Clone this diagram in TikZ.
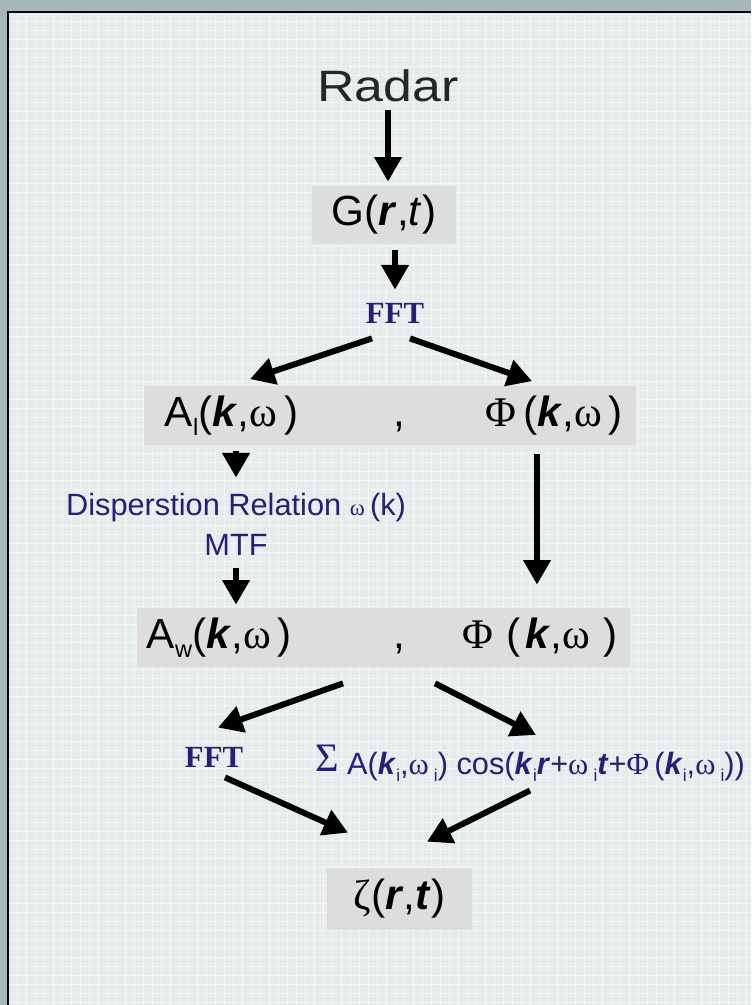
\documentclass[tikz,border=0pt]{standalone}
\usepackage{fontspec}
\setmainfont{Liberation Sans}
\newfontfamily\symb{Liberation Serif}
\usetikzlibrary{arrows.meta,calc}
\definecolor{navy}{RGB}{38,30,120}
\definecolor{boxgray}{RGB}{221,221,219}
\definecolor{paper}{RGB}{230,235,235}
\definecolor{marble}{RGB}{166,183,185}
\newcommand\vk{\textbf{\textit{k}}}
\newcommand\vr{\textbf{\textit{r}}}
\newcommand\vt{\textbf{\textit{t}}}
\newcommand\om{{\symb ω}}
\newcommand\sub[1]{\raisebox{-.22em}{\scalebox{.56}{#1}}}

\begin{document}
\begin{tikzpicture}[x=0.2mm,y=-0.2mm,
 bx/.style={fill=boxgray,inner sep=0pt,minimum height=11.8mm,font=\fontsize{24}{28}\selectfont},
 lb/.style={inner sep=0pt,text=navy},
 fft/.style={lb,font=\symb\bfseries\fontsize{17.5}{20}\selectfont},
 ar/.style={-{Triangle[length=14pt,width=15pt]},line width=3.4pt}]
\useasboundingbox (0,0) rectangle (751,1005);
\fill[marble] (0,0) rectangle (751,1005);
\fill[paper] (8,12) rectangle (751,1005);
\foreach \gx in {17,26,...,751} \draw[white,opacity=.5,line width=.4pt] (\gx,12) -- (\gx,1005);
\foreach \gy in {21,30,...,1005} \draw[white,opacity=.5,line width=.4pt] (8,\gy) -- (751,\gy);
\draw[line width=1.2pt] (751,12) -- (8,12) -- (8,1005);

\node[inner sep=0pt,text=black!85,font=\fontsize{25}{30}\selectfont] (radar) at (388,86) {\scalebox{1.18}[1]{Radar}};
\node[bx,minimum width=28.8mm,minimum height=11.6mm] (g) at (384,215) {G(\vr,\textit{t})};
\node[fft] (fft1) at (395,313) {FFT};
\node[bx,minimum width=98.4mm] (al) at (390,415.5) {\hbox to 98.4mm{\hspace{4.2mm}A\sub{l}(\vk,\om\,)\hfill,\hspace{16mm}{\symb Φ}\,(\vk,\om\,)\hspace{2.6mm}}};
\node[lb,align=center,font=\fontsize{17.5}{22.7}\selectfont] (disp) at (236,524) {Disperstion Relation {\symb\fontsize{13}{15}\selectfont ω}\,(k)\\MTF};
\node[bx,minimum width=98.6mm] (aw) at (383.5,637.5) {\hbox to 98.6mm{\hspace{2mm}A\sub{w}(\vk,\om\,)\hfill,\hspace{11.4mm}{\symb Φ}\hspace{2.6mm}(\hspace{1mm}\vk,\om\,\,)\hspace{2.4mm}}};
\node[fft] (fft2) at (214,757) {FFT};
\node[lb,font=\fontsize{17.5}{20}\selectfont] (sum) at (530,763) {\raisebox{.1em}{\symb\fontsize{23}{24}\selectfont Σ} A(\vk\sub{i},\om\,\sub{i}) cos(\vk\sub{i}\vr+\om\,\sub{i}\vt+{\symb Φ}\,(\vk\sub{i},\om\,\sub{i}))};
\node[bx,minimum width=29mm,minimum height=12.4mm] (zeta) at (399.5,899) {{\symb ζ}(\vr,\vt)};

\draw[ar,shorten <=1.6mm,shorten >=0.8mm] (radar.south) -- (radar.south |- g.north);
\draw[ar,shorten <=1.2mm,shorten >=2.6mm] (g.south -| fft1.north) -- (fft1.north);
\draw[ar] ([xshift=-4.6mm,yshift=-3mm]fft1.south) -- ([xshift=-28mm,yshift=1.3mm]al.north);
\draw[ar] ([xshift=3mm,yshift=-3mm]fft1.south) -- ([xshift=28.4mm,yshift=0.9mm]al.north);
\draw[ar,shorten <=1.2mm,shorten >=3mm] (al.south -| disp.north) -- (disp.north);
\draw[ar,shorten <=2.6mm,shorten >=0.6mm] (disp.south) -- (disp.south |- aw.north);
\draw[ar,shorten <=1.8mm,shorten >=4.6mm] ([xshift=29.4mm]al.south) -- ([xshift=29.4mm]al.south |- aw.north);
\draw[ar] ([xshift=-8.1mm,yshift=-3.2mm]aw.south) -- ([xshift=0.8mm,yshift=3.8mm]fft2.north);
\draw[ar] ([xshift=10.3mm,yshift=-3.2mm]aw.south) -- ([xshift=1.2mm,yshift=1.9mm]sum.north);
\draw[ar] ([xshift=2.2mm,yshift=-2mm]fft2.south) -- ([xshift=-10.3mm,yshift=7mm]zeta.north);
\draw[ar] ([xshift=0mm,yshift=-1.8mm]sum.south) -- ([xshift=5.5mm,yshift=5.2mm]zeta.north);
\end{tikzpicture}
\end{document}
